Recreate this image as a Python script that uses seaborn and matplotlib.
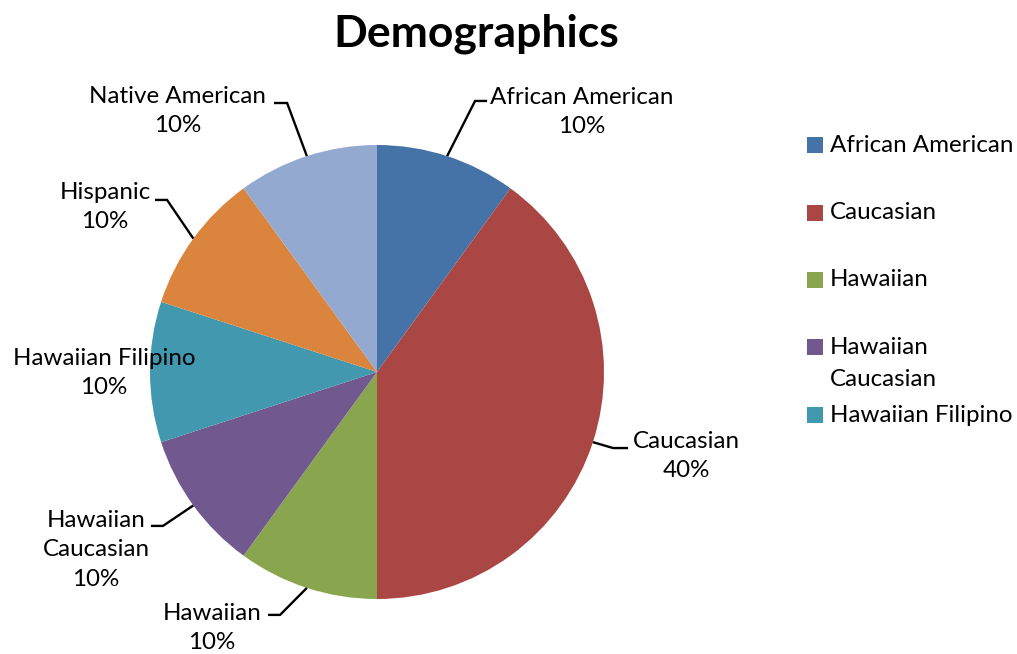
import matplotlib
matplotlib.use("Agg")
import matplotlib.pyplot as plt
from matplotlib.patches import Rectangle
import numpy as np
import seaborn as sns

# Demographic groups and their shares (percent)
categories = ["African American", "Caucasian", "Hawaiian", "Hawaiian Caucasian",
              "Hawaiian Filipino", "Hispanic", "Native American"]
shares = [10, 40, 10, 10, 10, 10, 10]
slice_names = ["African American", "Caucasian", "Hawaiian", "Hawaiian\nCaucasian",
               "Hawaiian Filipino", "Hispanic", "Native American"]
legend_names = ["African American", "Caucasian", "Hawaiian", "Hawaiian\nCaucasian",
                "Hawaiian Filipino"]
title = "Demographics"

sns.set_theme(style="white")
plt.rcParams["font.family"] = ["Lato", "DejaVu Sans"]

palette = sns.color_palette(["#4572A7", "#AA4643", "#89A54E", "#71588F",
                             "#4198AF", "#DB843D", "#93A9CF"])

W, H = 1017, 654
fig = plt.figure(figsize=(W / 100, H / 100), dpi=100)
fig.patch.set_facecolor("white")

# pie axes: centre (377, 372) px, radius 227 px
cx, cy, r = 377, 372, 227
ax = fig.add_axes([(cx - r) / W, (H - cy - r) / H, 2 * r / W, 2 * r / H])
wedges, _ = ax.pie(shares, colors=palette, startangle=90, counterclock=False,
                   radius=1, wedgeprops=dict(linewidth=0))
ax.set_xlim(-1, 1)
ax.set_ylim(-1, 1)
ax.set_aspect("equal")
ax.axis("off")

# label placement: (elbow x, elbow y, line end x, text x, text y) in pie units
layout = {
    "African American":   (0.432, 1.194, 0.485, 0.903, 1.145),
    "Caucasian":          (1.040, -0.335, 1.106, 1.361, -0.370),
    "Hawaiian":           (-0.427, -1.070, -0.480, -0.727, -1.128),
    "Hawaiian Caucasian": (-0.943, -0.678, -0.996, -1.238, -0.784),
    "Hawaiian Filipino":  (None, None, None, -1.203, -0.004),
    "Hispanic":           (-0.925, 0.758, -0.978, -1.198, 0.727),
    "Native American":    (-0.396, 1.185, -0.454, -0.877, 1.150),
}

label_fs = 17.4
for w, cat, name, val in zip(wedges, categories, slice_names, shares):
    mid = np.deg2rad((w.theta1 + w.theta2) / 2)
    ax_, ay_ = np.cos(mid), np.sin(mid)
    ex, ey, endx, tx, ty = layout[cat]
    if ex is not None:
        ax.plot([ax_, ex, endx], [ay_, ey, ey], color="black", lw=1.7,
                clip_on=False, solid_capstyle="butt", solid_joinstyle="miter")
    ax.text(tx, ty, f"{name}\n{val}%", ha="center", va="center",
            multialignment="center", fontsize=label_fs, linespacing=1.5,
            color="black", clip_on=False)

# title
fig.text(476 / W, 1 - 34 / H, title, ha="center", va="center",
         fontsize=32, fontweight="bold", color="black")

# legend (first five entries fit in the available space)
rows_y = [145, 213, 280, 347, 415]
for name, col, y in zip(legend_names, palette[:5], rows_y):
    fig.patches.append(Rectangle((807 / W, 1 - (y + 8) / H), 16 / W, 16 / H,
                                 transform=fig.transFigure, facecolor=col,
                                 edgecolor="none"))
    lines = name.split("\n")
    for k, ln in enumerate(lines):
        fig.text(830 / W, 1 - (y + 33 * k) / H, ln, ha="left", va="center",
                 fontsize=label_fs, color="black")

fig.savefig("out.png", dpi=100, facecolor="white")
